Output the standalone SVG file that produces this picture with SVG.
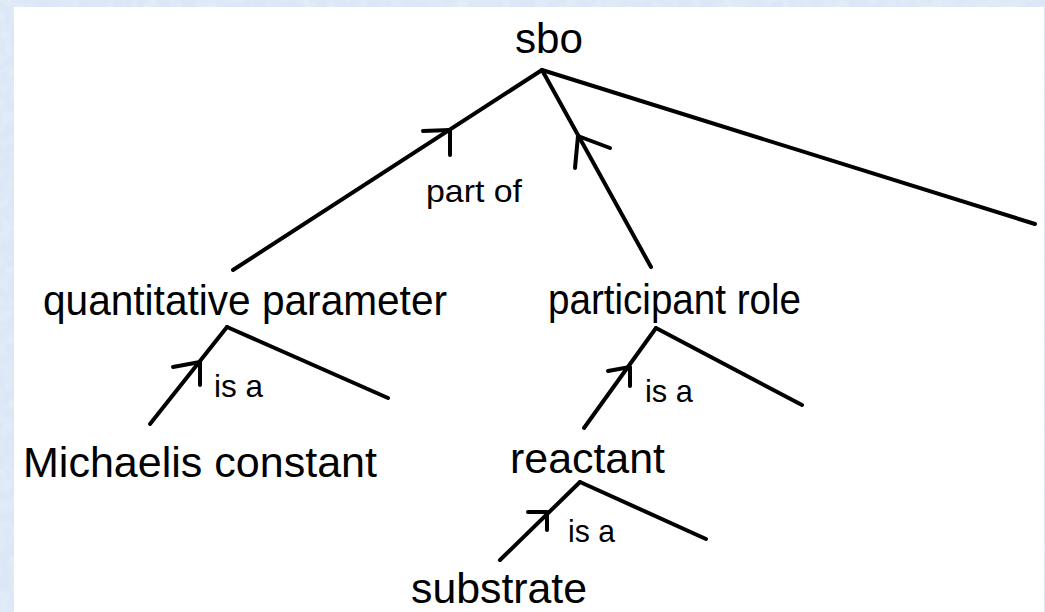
<svg xmlns="http://www.w3.org/2000/svg" width="1045" height="612" viewBox="0 0 1045 612">
  <defs>
    <filter id="grain" x="0" y="0" width="100%" height="100%">
      <feTurbulence type="fractalNoise" baseFrequency="0.09" numOctaves="2" seed="7" result="noise"/>
      <feColorMatrix in="noise" type="matrix" values="0 0 0 0 0.80  0 0 0 0 0.87  0 0 0 0 0.96  0 0 0 1.6 -0.55" result="tint"/>
      <feComposite in="tint" in2="SourceGraphic" operator="in"/>
    </filter>
    <style>
      .frame { fill: #dbe7f6; }
      .sheet { fill: #ffffff; }
      .edge, .head { fill: none; stroke: #000; stroke-width: 4; stroke-linecap: round; stroke-linejoin: round; }
      .term { font-family: "Liberation Sans", Arial, sans-serif; font-size: 43px; fill: #000; }
      .rel { font-family: "Liberation Sans", Arial, sans-serif; font-size: 32px; fill: #000; }
    </style>
  </defs>

  <!-- textured backdrop and white sheet -->
  <rect class="frame" x="0" y="0" width="1045" height="612"/>
  <rect x="0" y="0" width="1045" height="612" fill="#ffffff" filter="url(#grain)" opacity="0.9"/>
  <rect class="sheet" x="14" y="7" width="1030" height="605"/>

  <!-- connectors -->
  <g id="connectors">
    <!-- from sbo -->
    <line class="edge" x1="542" y1="70" x2="233" y2="270"/>
    <polyline class="head" points="423,131 450,130 450,155"/>
    <line class="edge" x1="542" y1="70" x2="651" y2="267"/>
    <polyline class="head" points="610,148 578,136 575,168"/>
    <line class="edge" x1="542" y1="70" x2="1035" y2="224"/>

    <!-- from quantitative parameter -->
    <line class="edge" x1="227" y1="327" x2="150" y2="424"/>
    <polyline class="head" points="173,367 200,362 200,385"/>
    <line class="edge" x1="227" y1="327" x2="388" y2="398"/>

    <!-- from participant role -->
    <line class="edge" x1="656" y1="328" x2="584" y2="428"/>
    <polyline class="head" points="608,371 630,367 630,386"/>
    <line class="edge" x1="656" y1="328" x2="802" y2="405"/>

    <!-- from reactant -->
    <line class="edge" x1="580" y1="482" x2="500" y2="560"/>
    <polyline class="head" points="528,512 547,512 547,530"/>
    <line class="edge" x1="580" y1="482" x2="706" y2="539"/>
  </g>

  <!-- edge labels -->
  <g id="labels">
    <text class="rel" x="426" y="202" textLength="96" lengthAdjust="spacingAndGlyphs">part of</text>
    <text class="rel" x="214" y="397" textLength="49" lengthAdjust="spacingAndGlyphs">is a</text>
    <text class="rel" x="645" y="402" textLength="48" lengthAdjust="spacingAndGlyphs">is a</text>
    <text class="rel" x="568" y="542" textLength="47" lengthAdjust="spacingAndGlyphs">is a</text>
  </g>

  <!-- terms -->
  <g id="node-sbo">
    <text class="term" x="515" y="53" textLength="68" lengthAdjust="spacingAndGlyphs">sbo</text>
  </g>
  <g id="node-quantitative-parameter">
    <text class="term" x="43" y="315" textLength="404" lengthAdjust="spacingAndGlyphs">quantitative parameter</text>
  </g>
  <g id="node-participant-role">
    <text class="term" x="548" y="314" textLength="253" lengthAdjust="spacingAndGlyphs">participant role</text>
  </g>
  <g id="node-michaelis-constant">
    <text class="term" x="23" y="477" textLength="354" lengthAdjust="spacingAndGlyphs">Michaelis constant</text>
  </g>
  <g id="node-reactant">
    <text class="term" x="510" y="473" textLength="155" lengthAdjust="spacingAndGlyphs">reactant</text>
  </g>
  <g id="node-substrate">
    <text class="term" x="411" y="603" textLength="176" lengthAdjust="spacingAndGlyphs">substrate</text>
  </g>
</svg>
